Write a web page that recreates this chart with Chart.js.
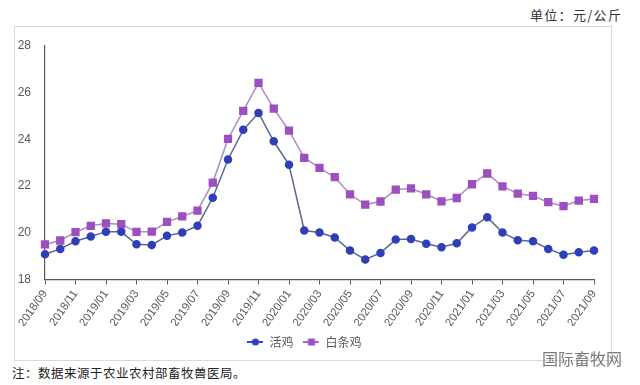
<!DOCTYPE html>
<html>
<head>
<meta charset="utf-8">
<script src="https://cdn.jsdelivr.net/npm/chart.js@4"></script>
<style>
  body { margin: 0; background: #fff; width: 640px; height: 385px; position: relative; overflow: hidden; font-family: "Noto Sans CJK SC", sans-serif; }
  #frame { position: absolute; left: 14px; top: 26px; width: 596px; height: 333px; border: 1px solid #d9d9d9; }
  #unit { position: absolute; left: 530px; top: 5px; font-size: 13px; color: #333; letter-spacing: 1.3px; }
  #note { position: absolute; left: 12px; top: 363px; font-size: 12.5px; color: #222; letter-spacing: 0.5px; }
  #mark { position: absolute; left: 542px; top: 346px; font-size: 16px; color: #7a7a7a; }
</style>
</head>
<body>
<div id="unit">单位：元/公斤</div>
<div id="frame"><canvas id="chart" width="596" height="333"></canvas></div>
<div id="mark">国际畜牧网</div>
<div id="note">注：数据来源于农业农村部畜牧兽医局。</div>
<script>
// months, one point each
const months = [
  "2018/09", "2018/10", "2018/11", "2018/12", "2019/01", "2019/02", "2019/03", "2019/04",
  "2019/05", "2019/06", "2019/07", "2019/08", "2019/09", "2019/10", "2019/11", "2019/12",
  "2020/01", "2020/02", "2020/03", "2020/04", "2020/05", "2020/06", "2020/07", "2020/08",
  "2020/09", "2020/10", "2020/11", "2020/12", "2021/01", "2021/02", "2021/03", "2021/04",
  "2021/05", "2021/06", "2021/07", "2021/08", "2021/09"
];

// 活鸡
const liveChicken = [
  19.08, 19.31, 19.64, 19.84, 20.05, 20.04, 19.51, 19.48, 19.87, 20.01, 20.30, 21.50,
  23.14, 24.41, 25.13, 23.92, 22.91, 20.10, 20.01, 19.80, 19.24, 18.86, 19.14, 19.71,
  19.73, 19.53, 19.38, 19.55, 20.23, 20.67, 20.01, 19.68, 19.64, 19.31, 19.06, 19.17, 19.24
];

// 白条鸡
const carcassChicken = [
  19.50, 19.67, 20.03, 20.30, 20.40, 20.37, 20.04, 20.05, 20.47, 20.70, 20.95, 22.15,
  24.02, 25.22, 26.42, 25.32, 24.38, 23.21, 22.78, 22.38, 21.65, 21.21, 21.34, 21.85,
  21.90, 21.65, 21.35, 21.49, 22.08, 22.54, 21.99, 21.68, 21.58, 21.31, 21.14, 21.38, 21.45
];

const yTicks = [18, 20, 22, 24, 26, 28];

// little "-o-" icons for the legend
function legendIcon(lineColor, dotColor, square) {
  const c = document.createElement("canvas");
  c.width = 16; c.height = 10;
  const g = c.getContext("2d");
  g.strokeStyle = lineColor;
  g.lineWidth = 2;
  g.beginPath(); g.moveTo(0, 5); g.lineTo(16, 5); g.stroke();
  g.fillStyle = dotColor;
  if (square) g.fillRect(4.5, 1.5, 7, 7);
  else { g.beginPath(); g.arc(8, 5, 3.6, 0, Math.PI * 2); g.fill(); }
  return c;
}
const icons = [
  legendIcon("#3a4ab8", "#2f3fb8", false),
  legendIcon("#a86bcf", "#9b4fc0", true)
];

const axisColor = "#595959";

new Chart(document.getElementById("chart"), {
  type: "line",
  data: {
    labels: months,
    datasets: [{
      label: "活鸡",
      data: liveChicken,
      borderColor: "#5d6796",
      backgroundColor: "#2f3fb8",
      pointBackgroundColor: "#2f3fb8",
      pointBorderColor: "#2f3fb8",
      pointStyle: "circle",
      pointRadius: 3.5,
      borderWidth: 1.5,
      tension: 0,
    }, {
      label: "白条鸡",
      data: carcassChicken,
      borderColor: "#a98cc4",
      backgroundColor: "#9b4fc0",
      pointBackgroundColor: "#9b4fc0",
      pointBorderColor: "#9b4fc0",
      pointStyle: "rect",
      pointRadius: 4.8,
      borderWidth: 1.5,
      tension: 0,
    }],
  },
  options: {
    responsive: false,
    animation: false,
    layout: { padding: { left: 0, right: 17, top: 19, bottom: 2 } },
    scales: {
      x: {
        grid: {
          drawOnChartArea: false,
          drawTicks: true,
          tickLength: 5,
          color: (ctx) => ctx.index % 2 === 0 ? axisColor : "rgba(0,0,0,0)",
        },
        border: { display: true, color: axisColor, width: 1.2 },
        ticks: {
          autoSkip: false,
          maxRotation: 55,
          minRotation: 55,
          color: "#595959",
          font: { family: "Liberation Sans", size: 11.5 },
          callback: function (val, i) { return i % 2 === 0 ? months[i] : ""; },
        },
        afterFit: (scale) => { scale.height = 46.5; },
      },
      y: {
        min: 18,
        max: 28,
        afterBuildTicks: (scale) => { scale.ticks = yTicks.map(v => ({ value: v })); },
        grid: { display: false },
        border: { display: true, color: axisColor, width: 1.2 },
        ticks: {
          color: "#595959",
          padding: 6,
          font: { family: "Liberation Sans", size: 12 },
        },
        afterFit: (scale) => { scale.width = 30; },
      },
    },
    plugins: {
      legend: {
        position: "bottom",
        labels: {
          usePointStyle: true,
          pointStyleWidth: 16,
          boxHeight: 10,
          padding: 10,
          color: "#595959",
          font: { family: "Noto Sans CJK SC", size: 12 },
          generateLabels: (chart) => {
            const items = Chart.defaults.plugins.legend.labels.generateLabels(chart);
            items.forEach((it, i) => { it.pointStyle = icons[i]; });
            return items;
          },
        },
      },
      tooltip: { enabled: false },
    },
  },
});
</script>
</body>
</html>
